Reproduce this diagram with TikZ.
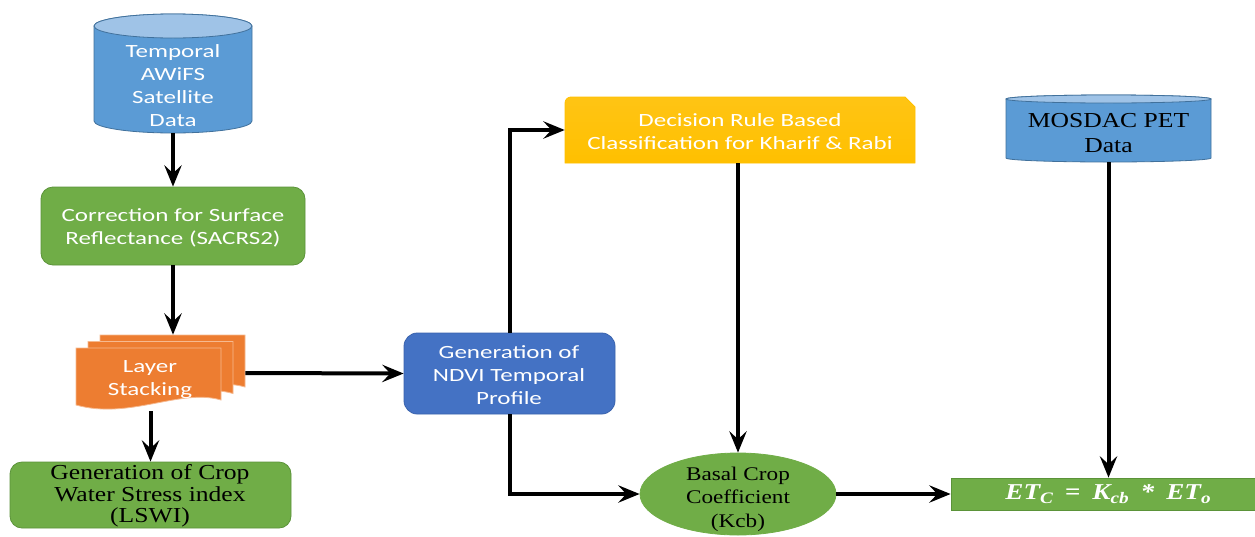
\documentclass[tikz,border=0pt]{standalone}
\usepackage{fontspec}
\newfontfamily\calfont{Carlito}[FakeStretch=1.34]
\newfontfamily\tmsfont{Liberation Serif}[FakeStretch=1.2]
\newfontfamily\etfont{Liberation Serif}[FakeStretch=1.2]
\usetikzlibrary{arrows.meta,shapes.geometric,fit}
\definecolor{cylblue}{HTML}{5B9BD5}
\definecolor{cyltop}{HTML}{9FC3E7}
\definecolor{cylline}{HTML}{41719C}
\definecolor{ggreen}{HTML}{70AD47}
\definecolor{ggreenline}{HTML}{5B9339}
\definecolor{oorange}{HTML}{ED7D31}
\definecolor{oline}{HTML}{F6B98F}
\definecolor{nblue}{HTML}{4472C4}
\definecolor{nline}{HTML}{3A63AD}
\definecolor{gold}{HTML}{FFC000}
\definecolor{goldtop}{HTML}{FFC414}
\newcommand\subx[1]{\raisebox{-3.2pt}{\fontsize{12}{12}\selectfont #1}}
\begin{document}
\begin{tikzpicture}[x=0.75pt,y=-0.75pt,
  arr/.style={-{Stealth[length=16pt,width=13pt,inset=6pt]},line width=3pt},
  shp/.style={inner sep=0pt,line width=0.6pt},
  txtw/.style={text=white,align=center,inner sep=0pt,font=\calfont\fontsize{14}{17.25}\selectfont},
  txtb/.style={text=black,align=center,inner sep=0pt,font=\tmsfont\fontsize{16}{16.3}\selectfont},
]
\useasboundingbox (0,0) rectangle (1255,536);
\fill[white] (0,0) rectangle (1255,536);

% ---- Cylinder 1
\path[fill=cylblue,draw=cylline,line width=0.6pt] (94,26) -- (94,121)
  arc[start angle=180,end angle=0,x radius=79,y radius=12] -- (252,26)
  arc[start angle=0,end angle=-180,x radius=79,y radius=12] -- cycle;
\path[fill=cyltop,draw=cylline,line width=0.6pt] (173,26) ellipse[x radius=79,y radius=12];
\node[fit={(94,14) (252,133)},inner sep=0pt] (c1) {};
\node[txtw] (c1t) at (173,86) {Temporal\\AWiFS\\Satellite\\Data};

% ---- Correction
\node[fit={(41,187) (305,265)},shp,rounded corners=9pt,fill=ggreen,draw=ggreenline] (corr) {};
\node[txtw] (corrt) at (173,228) {Correction for Surface\\Reflectance (SACRS2)};

% ---- Layer stacking
\begin{scope}[shift={(24,-13)}]
\path[fill=oorange,draw=oline,line width=0.6pt] (76,348) -- (221,348) -- (221,400) .. controls (180,388) and (130,420) .. (76,405) -- cycle;
\end{scope}
\begin{scope}[shift={(12,-6.5)}]
\path[fill=oorange,draw=oline,line width=0.6pt] (76,348) -- (221,348) -- (221,400) .. controls (180,388) and (130,420) .. (76,405) -- cycle;
\end{scope}
\path[fill=oorange,draw=oline,line width=0.6pt] (76,348) -- (221,348) -- (221,400) .. controls (180,388) and (130,420) .. (76,405) -- cycle;
\node[fit={(76,335) (245,411)},inner sep=0pt] (layer) {};
\node[txtw] (layert) at (150,380) {Layer\\Stacking};

% ---- LSWI
\node[fit={(10,462) (291,528)},shp,rounded corners=9pt,fill=ggreen,draw=ggreenline] (lswi) {};
\node[txtb] (lswit) at (150,496) {Generation of Crop\\Water Stress index\\(LSWI)};

% ---- NDVI
\node[fit={(404,333) (615,414)},shp,rounded corners=10pt,fill=nblue,draw=nline] (ndvi) {};
\node[txtw] (ndvit) at (509,375) {Generation of\\NDVI Temporal\\Profile};

% ---- Decision
\path[top color=goldtop,bottom color=gold,draw=gold,line width=0.6pt]
  (571,97) -- (905,97) -- (915,107) -- (915,163) -- (565,163) -- (565,103) arc[start angle=180,end angle=270,radius=6] -- cycle;
\node[fit={(565,97) (915,163)},inner sep=0pt] (dec) {};
\node[txtw] (dect) at (740,132) {Decision Rule Based\\Classification for Kharif \& Rabi};

% ---- MOSDAC cylinder
\path[fill=cylblue,draw=cylline,line width=0.6pt] (1006,99) -- (1006,158)
  arc[start angle=180,end angle=0,x radius=102.5,y radius=4] -- (1211,99)
  arc[start angle=0,end angle=-180,x radius=102.5,y radius=4] -- cycle;
\path[fill=cyltop,draw=cylline,line width=0.6pt] (1108.5,99) ellipse[x radius=102.5,y radius=4];
\node[fit={(1006,95) (1211,162)},inner sep=0pt] (mos) {};
\node[txtb,font=\tmsfont\fontsize{16}{18.75}\selectfont] (most) at (1108.5,133) {MOSDAC PET\\Data};

% ---- Ellipse
\node[ellipse,shp,minimum width=147pt,minimum height=61.5pt,fill=ggreen,draw=ggreen] (ell) at (738,494) {};
\node[txtb,font=\tmsfont\fontsize{14.5}{17.6}\selectfont] (ellt) at (738,499) {Basal Crop\\Coefficient\\(Kcb)};

% ---- ET box
\node[fit={(951,478) (1260,510)},shp,fill=ggreen,draw=ggreenline] (et) {};
\node[text=white,inner sep=0pt,font=\etfont\bfseries\itshape\fontsize{17}{18}\selectfont] (ett) at (1108,494)
  {ET\subx{C}\hspace{9pt}=\hspace{9pt}K\subx{cb}\hspace{9pt}*\hspace{9pt}ET\subx{o}};

% ---- Connectors
\draw[arr] (c1.south) -- (corr.north);
\draw[arr] (corr.south) -- (corr.south |- layer.north);
\draw[arr] (layer.east) -- (ndvi.west);
\draw[arr] (lswi.north |- layer.south) -- (lswi.north);
\draw[arr] (ndvi.north) -- (ndvi.north |- dec.west) -- (dec.west);
\draw[arr] (ndvi.south) -- (ndvi.south |- ell.west) -- (ell.west);
\draw[arr] (dec.south -| ell.north) -- (ell.north);
\draw[arr] (mos.south) -- (mos.south |- et.north);
\draw[arr] (ell.east) -- (et.west);
\end{tikzpicture}
\end{document}
